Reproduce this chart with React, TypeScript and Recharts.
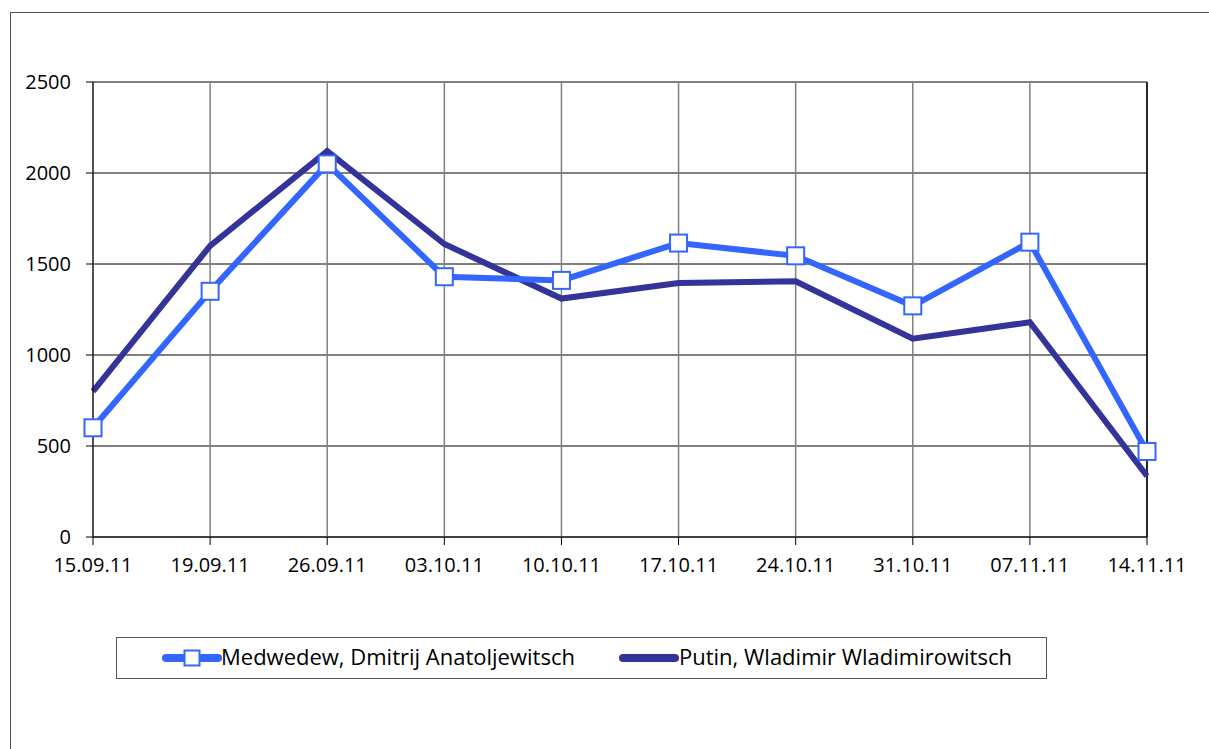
import React from "react";
import { LineChart, Line, XAxis, YAxis, CartesianGrid, ReferenceLine } from "recharts";

const categories = ["15.09.11", "19.09.11", "26.09.11", "03.10.11", "10.10.11", "17.10.11", "24.10.11", "31.10.11", "07.11.11", "14.11.11"];
const medwedew = [600, 1350, 2050, 1430, 1410, 1615, 1545, 1270, 1620, 470];
const putin = [800, 1600, 2120, 1610, 1310, 1395, 1405, 1090, 1180, 335];
const yTicks = [0, 500, 1000, 1500, 2000, 2500];
const seriesNames = ["Medwedew, Dmitrij Anatoljewitsch", "Putin, Wladimir Wladimirowitsch"];
const colors = ["#3366FF", "#333399"];

const data = categories.map((c, i) => ({ date: c, m: medwedew[i], p: putin[i] }));

const FONT = "'Open Sans', 'Liberation Sans', Arial, sans-serif";

const SquareDot = (props: any) => {
  const { cx, cy } = props;
  if (cx == null || cy == null) return null;
  return <rect x={cx - 8.5} y={cy - 8.5} width={17} height={17} fill="#fff" stroke={colors[0]} strokeWidth={2} />;
};

export default function App() {
  return (
    <div style={{ position: "absolute", left: 0, top: 0, width: 1209, height: 749, overflow: "hidden", background: "#fff", fontFamily: FONT }}>
      <div style={{ position: "absolute", left: 10, top: 12, width: 1400, height: 900, border: "1.5px solid #555", boxSizing: "border-box" }} />
      <div style={{ position: "absolute", left: 0, top: 0 }}>
        <LineChart width={1209} height={749} data={data} margin={{ top: 82, right: 62, bottom: 172, left: 33 }}>
          <CartesianGrid horizontal={true} vertical={false} stroke="#000" strokeWidth={1} />
          <CartesianGrid horizontal={false} vertical={true} stroke="#808080" strokeWidth={1.5} />
          <XAxis
            dataKey="date"
            height={40}
            interval={0}
            tickSize={8}
            tickMargin={13}
            stroke="#000"
            tick={{ fill: "#000", fontSize: 20, fontFamily: FONT }}
            tickLine={{ stroke: "#000" }}
            axisLine={{ stroke: "#000" }}
          />
          <YAxis
            width={60}
            domain={[0, 2500]}
            ticks={yTicks}
            tickSize={7}
            tickMargin={15}
            stroke="#000"
            tick={{ fill: "#000", fontSize: 20, fontFamily: FONT }}
            axisLine={{ stroke: "#000" }}
            tickLine={{ stroke: "#000" }}
          />
          <ReferenceLine x={categories[categories.length - 1]} stroke="#000" strokeWidth={1.5} />
          <Line type="linear" dataKey="p" name={seriesNames[1]} stroke={colors[1]} strokeWidth={6} dot={false} isAnimationActive={false} />
          <Line type="linear" dataKey="m" name={seriesNames[0]} stroke={colors[0]} strokeWidth={6} dot={<SquareDot />} isAnimationActive={false} />
        </LineChart>
      </div>
      <div style={{ position: "absolute", left: 116, top: 637, width: 931, height: 42, border: "1.5px solid #555", boxSizing: "border-box", background: "#fff" }}>
        <svg width={62} height={20} style={{ position: "absolute", left: 45, top: 10 }}>
          <line x1={4} y1={10} x2={56} y2={10} stroke={colors[0]} strokeWidth={8} strokeLinecap="round" />
          <rect x={22.5} y={2.5} width={15} height={15} fill="#fff" stroke={colors[0]} strokeWidth={2} />
        </svg>
        <span style={{ position: "absolute", left: 104, top: 6, fontSize: 22, color: "#000", whiteSpace: "nowrap", lineHeight: "24px" }}>{seriesNames[0]}</span>
        <svg width={62} height={20} style={{ position: "absolute", left: 502, top: 10 }}>
          <line x1={4} y1={10} x2={56} y2={10} stroke={colors[1]} strokeWidth={8} strokeLinecap="round" />
        </svg>
        <span style={{ position: "absolute", left: 562, top: 6, fontSize: 22, color: "#000", whiteSpace: "nowrap", lineHeight: "24px" }}>{seriesNames[1]}</span>
      </div>
    </div>
  );
}
